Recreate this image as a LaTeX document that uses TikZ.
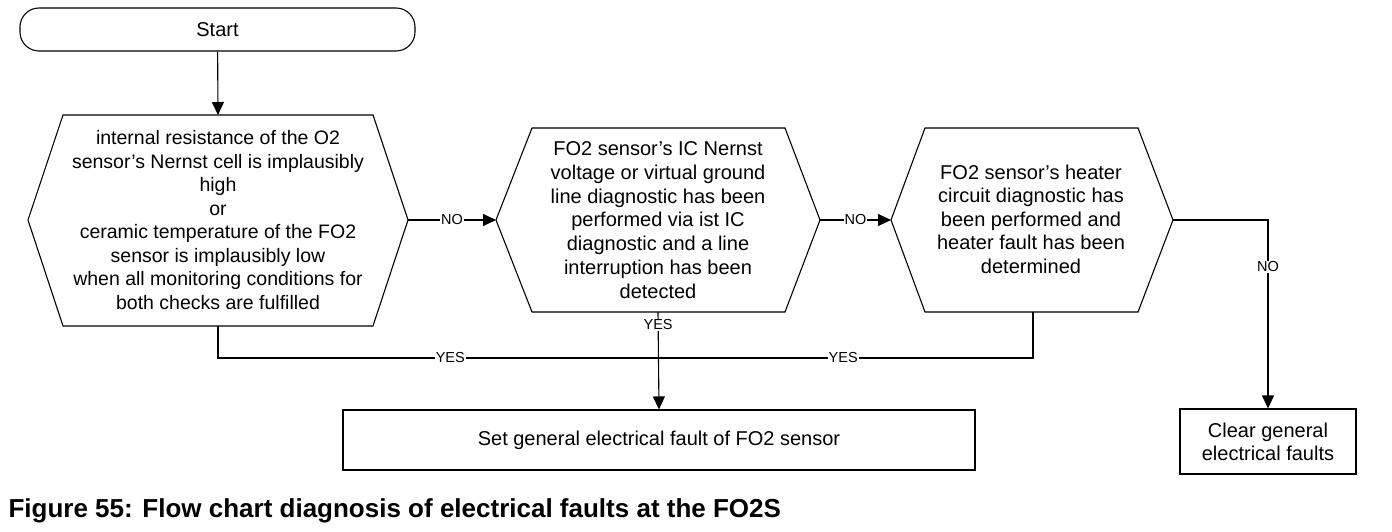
\documentclass[tikz,border=0pt]{standalone}
\usepackage{fontspec}
\setmainfont{Liberation Sans}
\usetikzlibrary{arrows.meta}
\begin{document}
\begin{tikzpicture}[x=1pt,y=-1pt,line width=1.1pt,
  txt/.style={align=center,inner sep=0pt},
  hexa/.style={line width=1.1pt},
  lab/.style={fill=white,inner sep=1pt,font=\fontsize{14.5}{14.5}\selectfont},
  arr/.style={-{Triangle[length=13pt,width=12pt]}},
  boxn/.style={draw,line width=1.1pt,inner sep=0pt}]
\useasboundingbox (0,0) rectangle (1392,532);
% Start
\node[boxn,rounded corners=19pt,minimum width=395pt,minimum height=43pt,font=\fontsize{20}{20}\selectfont] (start) at (217.5,29.5) {Start};
% Hex 1
\draw[hexa] (63,115) -- (373,115) -- (408,220) -- (373,326) -- (63,326) -- (28,220) -- cycle;
\coordinate (h1t) at (218,115); \coordinate (h1r) at (408,220); \coordinate (h1b) at (218,326);
\node[txt,font=\fontsize{19.5}{23.5}\selectfont] (h1) at (218,220) {internal resistance of the O2\\sensor’s Nernst cell is implausibly\\high\\or\\ceramic temperature of the FO2\\sensor is implausibly low\\when all monitoring conditions for\\both checks are fulfilled};
% Hex 2
\draw[hexa] (532,128) -- (785,128) -- (820,220) -- (785,312) -- (532,312) -- (496,220) -- cycle;
\coordinate (h2l) at (496,220); \coordinate (h2r) at (820,220); \coordinate (h2b) at (658,312);
\node[txt,font=\fontsize{20}{23.8}\selectfont] (h2) at (658,220) {FO2 sensor’s IC Nernst\\voltage or virtual ground\\line diagnostic has been\\performed via ist IC\\diagnostic and a line\\interruption has been\\detected};
% Hex 3
\draw[hexa] (925,128) -- (1138,128) -- (1173,220) -- (1138,312) -- (925,312) -- (891,220) -- cycle;
\coordinate (h3l) at (891,220); \coordinate (h3r) at (1173,220); \coordinate (h3b) at (1033,312);
\node[txt,font=\fontsize{20}{23.5}\selectfont] (h3) at (1031,219) {FO2 sensor’s heater\\circuit diagnostic has\\been performed and\\heater fault has been\\determined};
% Boxes
\node[boxn,minimum width=632pt,minimum height=60pt,font=\fontsize{20}{20}\selectfont] (set) at (659,440) {Set general electrical fault of FO2 sensor};
\node[boxn,minimum width=176pt,minimum height=65pt,align=center,font=\fontsize{20}{23}\selectfont] (clear) at (1268,441.5) {Clear general\\electrical faults};
% Connectors
\coordinate (j) at (658,358);
\draw[arr] (start) -- (h1t);
\draw[arr] (h1r) -- node[lab]{NO} (h2l);
\draw[arr] (h2r) -- node[lab]{NO} (h3l);
\draw[arr] (h3r) -| node[lab,pos=0.624]{NO} (clear.north);
\draw[arr] (h2b) -- node[lab,pos=0.13]{YES} (set.north);
\draw (h1b) |- node[lab,pos=0.764]{YES} (j);
\draw (h3b) |- node[lab,pos=0.753]{YES} (j);
% Caption
\node[anchor=base west,inner sep=0pt,font=\fontsize{26}{26}\selectfont\bfseries] (cap) at (8,517) {Figure 55: Flow chart diagnosis of electrical faults at the FO2S};
\end{tikzpicture}
\end{document}
